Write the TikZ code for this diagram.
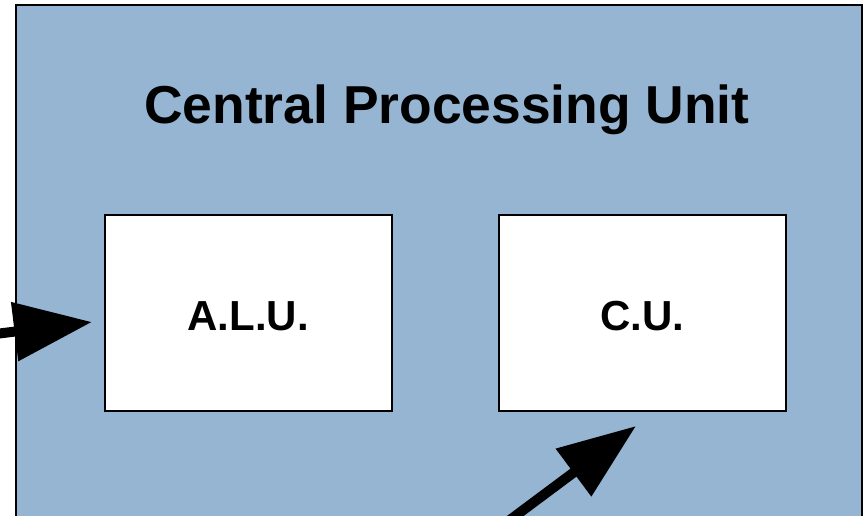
\documentclass[tikz,border=0pt]{standalone}
\usepackage{fontspec}
\setmainfont{Liberation Sans}
\usetikzlibrary{arrows.meta}
\definecolor{cpublue}{RGB}{149,181,211}
\tikzset{
  unitbox/.style={draw=black, line width=2pt, fill=white, minimum width=287pt, minimum height=196pt, inner sep=0pt},
  unitlabel/.style={font=\fontsize{42}{42}\selectfont\bfseries},
  bigarrow/.style={line width=10pt, -{Triangle[length=78pt, width=57pt]}}
}
\begin{document}
\begin{tikzpicture}[x=1pt,y=-1pt]
\useasboundingbox (0,0) rectangle (864,516);
\clip (0,0) rectangle (864,516);
\node[draw=black, line width=2pt, fill=cpublue, minimum width=846pt, minimum height=600pt, inner sep=0pt, anchor=north west] (cpu) at (15,4) {};
\node[font=\fontsize{53.4}{53.4}\selectfont\bfseries, anchor=base] (title) at (447,123.5) {Central Processing Unit};
\node[unitbox] (alu) at (248.5,313) {};
\node[unitlabel, anchor=base] (alutext) at (248,330.5) {A.L.U.};
\node[unitbox] (cu) at (642,313) {};
\node[unitlabel, anchor=base] (cutext) at (642.5,330.5) {C.U.};
\coordinate (s1) at (-37,338);
\coordinate (t1) at (92,322);
\coordinate (s2) at (475,546);
\coordinate (t2) at (636,426);
\draw[bigarrow] (s1) -- (t1);
\draw[bigarrow] (s2) -- (t2);
\end{tikzpicture}
\end{document}
